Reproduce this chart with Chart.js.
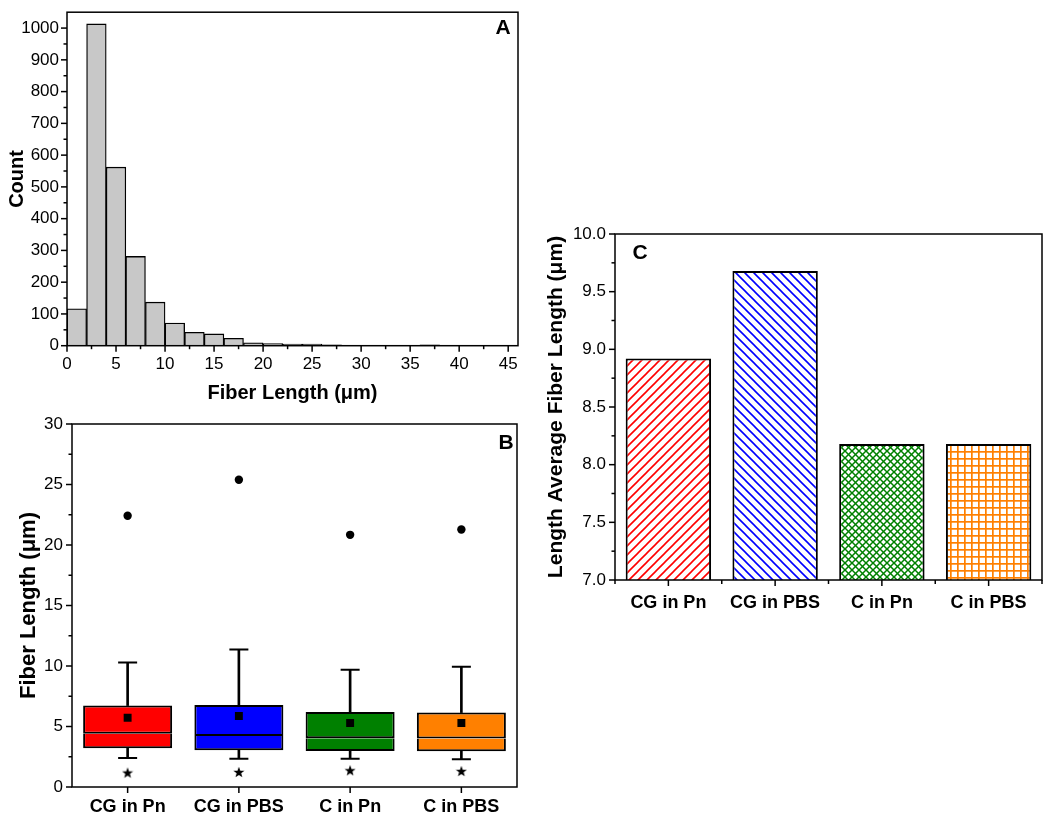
<!DOCTYPE html>
<html>
<head>
<meta charset="utf-8">
<script src="https://cdn.jsdelivr.net/npm/chart.js@4.4.1/dist/chart.umd.min.js"></script>
<style>
  html, body { margin: 0; padding: 0; background: #fff; }
  #wrap { position: relative; width: 1050px; height: 820px; background: #fff; overflow: hidden; }
  canvas { position: absolute; }
</style>
</head>
<body>
<div id="wrap">
  <canvas id="cA" width="530" height="410" style="left:0px;top:0px"></canvas>
  <canvas id="cB" width="530" height="410" style="left:0px;top:410px"></canvas>
  <canvas id="cC" width="520" height="400" style="left:530px;top:220px"></canvas>
</div>
<script>
// ---------- Panel A: histogram ----------
const histBinCenters = [1, 3, 5, 7, 9, 11, 13, 15, 17, 19, 21, 23, 25, 27, 29, 31, 33, 35, 37, 39, 41, 43, 45];
const histCounts     = [116, 1013, 562, 281, 137, 71, 42, 37, 23, 9, 7, 5, 5, 3, 1, 0, 1, 1, 3, 0, 0, 0, 1];
const histXTicks = [0, 5, 10, 15, 20, 25, 30, 35, 40, 45];
const histYTicks = [0, 100, 200, 300, 400, 500, 600, 700, 800, 900, 1000];

// ---------- Panel B: box plot ----------
const boxCategories = ['CG in Pn', 'CG in PBS', 'C in Pn', 'C in PBS'];
const boxQ1        = [3.20, 3.03, 2.98, 2.95];
const boxMedian    = [4.41, 4.22, 4.03, 4.00];
const boxQ3        = [6.73, 6.78, 6.20, 6.15];
const boxMean      = [5.73, 5.87, 5.29, 5.29];
const whiskerLow   = [2.40, 2.34, 2.34, 2.29];
const whiskerHigh  = [10.28, 11.36, 9.68, 9.93];
const minMarker    = [1.19, 1.24, 1.38, 1.32];
const maxMarker    = [22.42, 25.39, 20.84, 21.28];
const boxColors    = ['#ff0000', '#0000ff', '#008000', '#ff8000'];
const boxYTicks    = [0, 5, 10, 15, 20, 25, 30];

// ---------- Panel C: length-average bars ----------
const avgCategories = ['CG in Pn', 'CG in PBS', 'C in Pn', 'C in PBS'];
const avgLength     = [8.92, 9.68, 8.18, 8.18];
const avgColors     = ['#ff0000', '#0000ff', '#008000', '#ff8000'];
const avgYTicks     = [7.0, 7.5, 8.0, 8.5, 9.0, 9.5, 10.0];

Chart.defaults.font.family = '"Liberation Sans", Arial, Helvetica, sans-serif';
Chart.defaults.color = '#000';
Chart.defaults.animation = false;

const MU = '\u03bc';

// frame + tick marks + panel letter
function framePlugin(opts) {
  return {
    id: 'frame_' + opts.letter,
    afterDraw(chart) {
      const { ctx, chartArea: a } = chart;
      const xs = chart.scales.x, ys = chart.scales.y;
      ctx.save();
      ctx.strokeStyle = '#000';
      ctx.lineWidth = 1.5;
      ctx.lineCap = 'butt';
      ctx.strokeRect(a.left, a.top, a.right - a.left, a.bottom - a.top);
      const seg = (x1, y1, x2, y2) => { ctx.beginPath(); ctx.moveTo(x1, y1); ctx.lineTo(x2, y2); ctx.stroke(); };
      const yt = ys.ticks.map(t => t.value);
      yt.forEach((v, i) => {
        const p = ys.getPixelForValue(v);
        seg(a.left - 6, p, a.left, p);
        if (i < yt.length - 1) {
          const pm = ys.getPixelForValue((v + yt[i + 1]) / 2);
          seg(a.left - 3.5, pm, a.left, pm);
        }
      });
      if (opts.xLinear) {
        const xt = xs.ticks.map(t => t.value);
        xt.forEach((v, i) => {
          const p = xs.getPixelForValue(v);
          seg(p, a.bottom, p, a.bottom + 6);
          if (i < xt.length - 1) {
            const pm = xs.getPixelForValue((v + xt[i + 1]) / 2);
            seg(pm, a.bottom, pm, a.bottom + 3.5);
          }
        });
      } else {
        const n = chart.data.labels.length;
        for (let i = 0; i < n; i++) {
          const p = xs.getPixelForValue(i);
          seg(p, a.bottom, p, a.bottom + 6);
          if (opts.catMinor) {
            const pb = xs.getPixelForValue(i - 0.5);
            seg(pb, a.bottom, pb, a.bottom + 4);
            if (i === n - 1) {
              const pe = xs.getPixelForValue(i + 0.5);
              seg(pe, a.bottom, pe, a.bottom + 4);
            }
          }
        }
      }
      ctx.fillStyle = '#000';
      ctx.font = 'bold 21px "Liberation Sans", Arial, sans-serif';
      ctx.textAlign = 'center';
      ctx.textBaseline = 'middle';
      const lx = opts.letterSide === 'left' ? a.left + opts.letterDx : a.right - opts.letterDx;
      ctx.fillText(opts.letter, lx, a.top + opts.letterDy);
      ctx.restore();
    }
  };
}

const tickFont = { size: 17 };
const noGrid = { display: false, drawTicks: true, tickLength: 6 };
const plain = v => String(v);

// ---------- Chart A ----------
new Chart(document.getElementById('cA'), {
  type: 'bar',
  data: {
    datasets: [{
      data: histBinCenters.map((x, i) => ({ x: x, y: histCounts[i] })),
      backgroundColor: '#c8c8c8',
      borderColor: '#000',
      borderWidth: 1.3,
      barPercentage: 1,
      categoryPercentage: 1
    }]
  },
  options: {
    responsive: false,
    layout: { padding: { top: 9, right: 12, left: 0, bottom: 0 } },
    plugins: { legend: { display: false }, tooltip: { enabled: false } },
    scales: {
      x: {
        type: 'linear', min: 0, max: 46, offset: false,
        afterBuildTicks: s => { s.ticks = histXTicks.map(v => ({ value: v })); },
        ticks: { font: tickFont, padding: 2, maxRotation: 0, autoSkip: false, callback: plain },
        grid: Object.assign({ offset: false }, noGrid),
        border: { display: false },
        title: { display: true, text: 'Fiber Length (' + MU + 'm)', font: { size: 20, weight: 'bold' }, padding: { top: 0, bottom: 5 } },
        afterFit: s => { s.height = 64.3; }
      },
      y: {
        type: 'linear', min: 0, max: 1050,
        afterBuildTicks: s => { s.ticks = histYTicks.map(v => ({ value: v })); },
        ticks: { font: tickFont, padding: 2, callback: plain },
        grid: noGrid,
        border: { display: false },
        title: { display: true, text: 'Count', font: { size: 20, weight: 'bold' }, padding: { top: 5, bottom: 0 } },
        afterFit: s => { s.width = 67; }
      }
    }
  },
  plugins: [framePlugin({ letter: 'A', xLinear: true, letterSide: 'right', letterDx: 15, letterDy: 16 })]
});

// ---------- Chart B ----------
function makeStar() {
  const c = document.createElement('canvas');
  c.width = 12; c.height = 12;
  const g = c.getContext('2d');
  g.fillStyle = '#000';
  g.beginPath();
  for (let k = 0; k < 10; k++) {
    const r = k % 2 === 0 ? 5.8 : 2.4;
    const ang = -Math.PI / 2 + k * Math.PI / 5;
    const px = 6 + r * Math.cos(ang), py = 6.6 + r * Math.sin(ang);
    if (k === 0) g.moveTo(px, py); else g.lineTo(px, py);
  }
  g.closePath();
  g.fill();
  return c;
}
const starImg = makeStar();

const pointDs = (data, style, radius, extra) => Object.assign({
  type: 'line', data: data, showLine: false,
  pointStyle: style, pointRadius: radius, pointHoverRadius: radius,
  pointBackgroundColor: '#000', pointBorderColor: '#000', pointBorderWidth: 0,
  order: 0
}, extra || {});

new Chart(document.getElementById('cB'), {
  type: 'bar',
  data: {
    labels: boxCategories,
    datasets: [
      pointDs(maxMarker, 'circle', 4.2),
      pointDs(minMarker, starImg, 6),
      pointDs(boxMean, 'rect', 5.6),
      pointDs(whiskerHigh, 'line', 9.5, { pointBorderWidth: 2, order: 1 }),
      pointDs(whiskerLow, 'line', 9.5, { pointBorderWidth: 2, order: 1 }),
      {
        data: boxQ3.map((v, i) => [v, whiskerHigh[i]]),
        backgroundColor: '#000', borderWidth: 0, barThickness: 2, grouped: false, order: 2
      },
      {
        data: whiskerLow.map((v, i) => [v, boxQ1[i]]),
        backgroundColor: '#000', borderWidth: 0, barThickness: 2, grouped: false, order: 2
      },
      {
        data: boxQ1.map((v, i) => [v, boxMedian[i]]),
        backgroundColor: boxColors, borderColor: '#000',
        borderWidth: { top: 0, bottom: 2, left: 2, right: 2 }, borderSkipped: false,
        barPercentage: 0.8, categoryPercentage: 1, grouped: false, order: 3
      },
      {
        data: boxMedian.map((v, i) => [v, boxQ3[i]]),
        backgroundColor: boxColors, borderColor: '#000',
        borderWidth: { top: 2, bottom: 2, left: 2, right: 2 }, borderSkipped: false,
        barPercentage: 0.8, categoryPercentage: 1, grouped: false, order: 3
      }
    ]
  },
  options: {
    responsive: false,
    layout: { padding: { top: 14, right: 13, left: 0, bottom: 0 } },
    plugins: { legend: { display: false }, tooltip: { enabled: false } },
    scales: {
      x: {
        type: 'category',
        ticks: { font: { size: 18, weight: 'bold' }, padding: 3, maxRotation: 0, autoSkip: false },
        grid: noGrid,
        border: { display: false },
        afterFit: s => { s.height = 33; }
      },
      y: {
        type: 'linear', min: 0, max: 30,
        afterBuildTicks: s => { s.ticks = boxYTicks.map(v => ({ value: v })); },
        ticks: { font: tickFont, padding: 3, callback: plain },
        grid: noGrid,
        border: { display: false },
        title: { display: true, text: 'Fiber Length (' + MU + 'm)', font: { size: 22, weight: 'bold' }, padding: { top: 16, bottom: 0 } },
        afterFit: s => { s.width = 72; }
      }
    }
  },
  plugins: [framePlugin({ letter: 'B', xLinear: false, letterSide: 'right', letterDx: 11, letterDy: 19 })]
});

// ---------- Chart C ----------
function hatch(color, kind, size, lw) {
  const c = document.createElement('canvas');
  c.width = size; c.height = size;
  const g = c.getContext('2d');
  g.fillStyle = '#fff';
  g.fillRect(0, 0, size, size);
  g.strokeStyle = color;
  g.fillStyle = color;
  g.lineWidth = lw;
  const up = () => {
    g.beginPath();
    g.moveTo(-2, 2); g.lineTo(2, -2);
    g.moveTo(0, size); g.lineTo(size, 0);
    g.moveTo(size - 2, size + 2); g.lineTo(size + 2, size - 2);
    g.stroke();
  };
  const down = () => {
    g.beginPath();
    g.moveTo(-2, size - 2); g.lineTo(2, size + 2);
    g.moveTo(0, 0); g.lineTo(size, size);
    g.moveTo(size - 2, -2); g.lineTo(size + 2, 2);
    g.stroke();
  };
  if (kind === 'up') up();
  else if (kind === 'down') down();
  else if (kind === 'cross') { up(); down(); }
  else if (kind === 'grid') {
    g.fillRect(0, 0, lw, size);
    g.fillRect(0, 0, size, lw);
  }
  return g.createPattern(c, 'repeat');
}
const avgPatterns = [
  hatch(avgColors[0], 'up', 9, 1.6),
  hatch(avgColors[1], 'down', 9, 1.6),
  hatch(avgColors[2], 'cross', 7, 1.5),
  hatch(avgColors[3], 'grid', 7, 1.7)
];

new Chart(document.getElementById('cC'), {
  type: 'bar',
  data: {
    labels: avgCategories,
    datasets: [{
      data: avgLength,
      backgroundColor: avgPatterns,
      borderColor: '#000',
      borderWidth: 2,
      borderSkipped: false,
      barPercentage: 0.8,
      categoryPercentage: 1
    }]
  },
  options: {
    responsive: false,
    layout: { padding: { top: 14, right: 8, left: 0, bottom: 0 } },
    plugins: { legend: { display: false }, tooltip: { enabled: false } },
    scales: {
      x: {
        type: 'category',
        ticks: { font: { size: 18, weight: 'bold' }, padding: 6, maxRotation: 0, autoSkip: false },
        grid: noGrid,
        border: { display: false },
        afterFit: s => { s.height = 40; }
      },
      y: {
        type: 'linear', min: 7, max: 10,
        afterBuildTicks: s => { s.ticks = avgYTicks.map(v => ({ value: v })); },
        ticks: { font: tickFont, padding: 3, callback: v => Number(v).toFixed(1) },
        grid: noGrid,
        border: { display: false },
        title: { display: true, text: 'Length Average Fiber Length (' + MU + 'm)', font: { size: 21, weight: 'bold' }, padding: { top: 14, bottom: 0 } },
        afterFit: s => { s.width = 85; }
      }
    }
  },
  plugins: [framePlugin({ letter: 'C', xLinear: false, catMinor: true, letterSide: 'left', letterDx: 25, letterDy: 19 })]
});
</script>
</body>
</html>
